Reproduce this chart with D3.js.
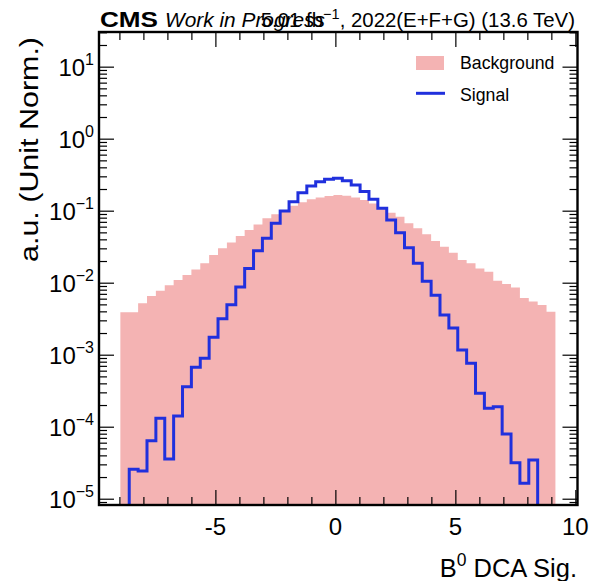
<!DOCTYPE html>
<html><head><meta charset="utf-8">
<script src="https://cdn.jsdelivr.net/npm/d3@7"></script>
<style>
body{margin:0;background:#fff}
text{font-family:"Liberation Sans",Arial,Helvetica,sans-serif;fill:#000}
</style>
</head><body>
<svg id="c" width="591" height="581"></svg>
<script>
// ---------------- data ----------------
const binLow = -8.96;       // lower edge of first bin
const binWidth = 0.37;      // bin width (49 bins)
const background = [
  0.00388,0.00388,0.00518,0.00653,0.00774,0.00920,0.0109,0.0128,0.0153,0.0186,
  0.0242,0.0300,0.0363,0.0444,0.0538,0.0645,0.0782,0.0889,0.102,0.117,
  0.131,0.144,0.153,0.160,0.165,0.161,0.153,0.141,0.126,0.108,
  0.0937,0.0826,0.0668,0.0570,0.0470,0.0380,0.0316,0.0261,0.0207,0.0186,
  0.0158,0.0142,0.0106,0.0096,0.0086,0.00614,0.00546,0.00491,0.00396
];
const signal = [
  0,2.56e-5,2.43e-5,6.39e-5,1.31e-4,3.56e-5,1.41e-4,3.59e-4,6.68e-4,8.91e-4,
  1.75e-3,3.16e-3,4.94e-3,8.7e-3,0.0158,0.0278,0.0414,0.0668,0.099,0.133,
  0.178,0.220,0.253,0.273,0.282,0.261,0.228,0.184,0.144,0.108,
  0.0743,0.0494,0.0306,0.0186,0.0105,0.00668,0.00356,0.00235,0.00116,7.6e-4,
  2.91e-4,1.80e-4,1.90e-4,7.9e-5,3.16e-5,1.64e-5,3.44e-5,0,0
];
const xMajorTicks = [-5,0,5,10];
const xMinorTicks = [-9,-8,-7,-6,-4,-3,-2,-1,1,2,3,4,6,7,8,9];
const yMajorTicks = [1e-5,1e-4,1e-3,1e-2,1e-1,1e0,1e1];
const yExponents  = ["−5","−4","−3","−2","−1","0","1"];
const xTickLabels = ["-5","0","5","10"];
const seriesNames = ["Background","Signal"];
const xTitle = "DCA Sig.";
const yTitle = "a.u. (Unit Norm.)";

// ---------------- layout ----------------
const L=99, R=577.5, T=32, B=505;
const x = d3.scaleLinear().domain([-9.85,10.09]).range([L,R]);
const y = d3.scaleLog().domain([8.18e-6,30.3]).range([B,T]);
const edges = background.map((_,i)=>binLow+i*binWidth).concat([binLow+background.length*binWidth]);

const svg = d3.select("#c");
svg.append("defs").append("clipPath").attr("id","frame")
  .append("rect").attr("x",L).attr("y",T).attr("width",R-L).attr("height",B-T);

const g = svg.append("g").attr("clip-path","url(#frame)");

// background histogram (filled)
const bgPts = [];
background.forEach((v,i)=>{bgPts.push([edges[i],v]);bgPts.push([edges[i+1],v]);});
g.append("path")
  .attr("d", d3.area().x(d=>x(d[0])).y0(B).y1(d=>y(d[1]))(bgPts))
  .attr("fill","#f4b3b3").attr("stroke","none");

// signal histogram (step line)
const yy = v => v>0 ? y(v) : B+4;
const sigPts = [];
let first = signal.findIndex(v=>v>0), last = signal.length-1;
while(signal[last]<=0) last--;
sigPts.push([x(edges[first]),B+4]);
for(let i=first;i<=last;i++){sigPts.push([x(edges[i]),yy(signal[i])]);sigPts.push([x(edges[i+1]),yy(signal[i])]);}
sigPts.push([x(edges[last+1]),B+4]);
g.append("path").attr("d",d3.line()(sigPts))
  .attr("fill","none").attr("stroke","#2030dd").attr("stroke-width",3).attr("stroke-linejoin","miter");

// ---------------- axes (ticks inward, all four sides) ----------------
function tickAxis(axis, tr){
  const a = svg.append("g").attr("transform",tr).call(axis);
  a.select(".domain").remove();
  a.selectAll("text").remove();
  a.selectAll("line").attr("stroke","#000").attr("stroke-width",1.2);
}
tickAxis(d3.axisBottom(x).tickValues(xMajorTicks).tickSize(-15).tickFormat(""),`translate(0,${B})`);
tickAxis(d3.axisBottom(x).tickValues(xMinorTicks).tickSize(-8).tickFormat(""),`translate(0,${B})`);
tickAxis(d3.axisTop(x).tickValues(xMajorTicks).tickSize(-15).tickFormat(""),`translate(0,${T})`);
tickAxis(d3.axisTop(x).tickValues(xMinorTicks).tickSize(-8).tickFormat(""),`translate(0,${T})`);
const yMinor = [];
for(let e=-6;e<=1;e++) for(let k=2;k<=9;k++){const v=k*Math.pow(10,e); if(v>y.domain()[0]&&v<y.domain()[1]) yMinor.push(v);}
tickAxis(d3.axisLeft(y).tickValues(yMajorTicks).tickSize(-15).tickFormat(""),`translate(${L},0)`);
tickAxis(d3.axisLeft(y).tickValues(yMinor).tickSize(-8).tickFormat(""),`translate(${L},0)`);
tickAxis(d3.axisRight(y).tickValues(yMajorTicks).tickSize(-15).tickFormat(""),`translate(${R},0)`);
tickAxis(d3.axisRight(y).tickValues(yMinor).tickSize(-8).tickFormat(""),`translate(${R},0)`);

// frame
svg.append("rect").attr("x",L).attr("y",T).attr("width",R-L).attr("height",B-T)
  .attr("fill","none").attr("stroke","#000").attr("stroke-width",2.4);

// tick labels
xMajorTicks.forEach((v,i)=>{
  svg.append("text").attr("x",x(v)).attr("y",535).attr("text-anchor","middle")
    .attr("font-size",24).text(xTickLabels[i]);
});
yMajorTicks.forEach((v,i)=>{
  const t = svg.append("text").attr("x",94).attr("y",y(v)+9).attr("text-anchor","end").attr("font-size",24);
  t.append("tspan").text("10");
  t.append("tspan").attr("dy",-11).attr("font-size",16).text(yExponents[i]);
});

// axis titles
const xt = svg.append("text").attr("x",577).attr("y",577).attr("text-anchor","end").attr("font-size",25.5);
xt.append("tspan").text("B");
xt.append("tspan").attr("dy",-11).attr("font-size",17.5).text("0");
xt.append("tspan").attr("dy",11).text(" "+xTitle);
svg.append("text").attr("transform","translate(38,37) rotate(-90)").attr("text-anchor","end")
  .attr("font-size",25).attr("textLength",225).attr("lengthAdjust","spacingAndGlyphs").text(yTitle);

// header
svg.append("text").attr("x",100).attr("y",27.3).attr("font-size",22.5).attr("font-weight","bold")
  .attr("textLength",58).attr("lengthAdjust","spacingAndGlyphs").text("CMS");
svg.append("text").attr("x",165).attr("y",27.3).attr("font-size",19.5).attr("font-style","italic")
  .attr("textLength",160).attr("lengthAdjust","spacingAndGlyphs").text("Work in Progress");
const lumi = svg.append("text").attr("x",575).attr("y",27.3).attr("text-anchor","end").attr("font-size",20.4);
lumi.append("tspan").text("5.01 fb");
lumi.append("tspan").attr("dy",-8.5).attr("font-size",14.5).text("−1");
lumi.append("tspan").attr("dy",8.5).text(", 2022(E+F+G) (13.6 TeV)");

// legend
const lg = svg.append("g");
lg.append("rect").attr("x",416).attr("y",56).attr("width",28).attr("height",14).attr("fill","#f4b3b3");
lg.append("text").attr("x",460).attr("y",69.3).attr("font-size",17.7).text(seriesNames[0]);
lg.append("line").attr("x1",416).attr("x2",445).attr("y1",93.3).attr("y2",93.3)
  .attr("stroke","#2030dd").attr("stroke-width",3);
lg.append("text").attr("x",460).attr("y",101).attr("font-size",17.7).text(seriesNames[1]);
</script>
</body></html>
